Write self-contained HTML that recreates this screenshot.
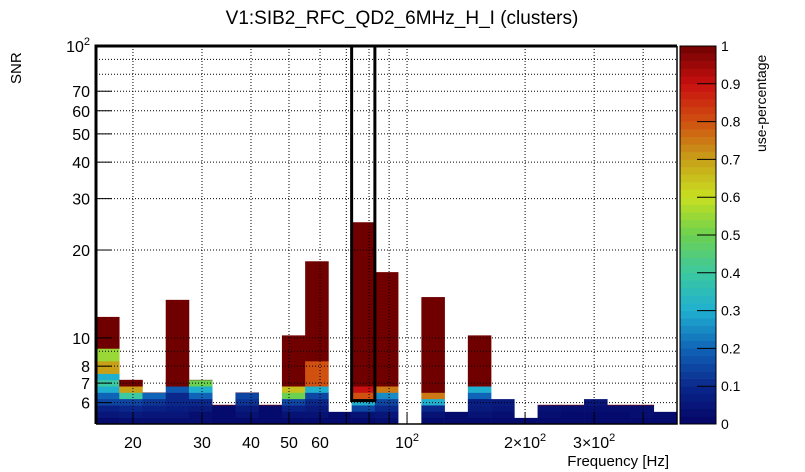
<!DOCTYPE html>
<html><head><meta charset="utf-8"><style>
body{margin:0;background:#fff;}
svg{display:block;font-family:"Liberation Sans",sans-serif;}
</style></head><body>
<svg id="chart" width="805" height="472" viewBox="0 0 805 472" xmlns="http://www.w3.org/2000/svg">
<text x="402" y="24" font-size="19" text-anchor="middle">V1:SIB2_RFC_QD2_6MHz_H_I (clusters)</text>
<text transform="translate(21,84) rotate(-90)" font-size="15">SNR</text>
<text x="669" y="466" font-size="15" text-anchor="end">Frequency [Hz]</text>
<text transform="translate(766,152) rotate(-90)" font-size="14">use-percentage</text>
<g id="cells"></g><g id="grid"></g><g id="axes"></g>
</svg>
<script>
// ---- data ----
const columnTops = [11.8,7.18,6.5,13.5,7.18,5.9,6.5,5.9,10.2,18.3,5.58,24.9,16.8,0,13.8,5.58,10.2,6.17,5.32,5.9,5.9,6.17,5.9,5.9,5.58];
const columnCells = [
 [0.02,0.05,0.08,0.15,0.2,0.3,0.4,0.3,0.7,0.7,0.55,0.55],
 [0.03,0.06,0.1,0.15,0.4,0.7,1],
 [0.03,0.05,0.08,0.12,0.2],
 [0.03,0.05,0.07,0.1,0.1,0.18],
 [0.03,0.03,0.06,0.1,0.2,0.3,0.5],
 [0.02,0.02,0.02],
 [0.02,0.04,0.06,0.12,0.15],
 [0.02,0.02,0.02],
 [0.02,0.04,0.08,0.15,0.5,0.65],
 [0.02,0.04,0.06,0.1,0.15,0.3,0.8,0.8,0.8,0.8],
 [0.02,0.02],
 [0.02,0.04,0.15,0.3,0.8,0.9],
 [0.03,0.05,0.1,0.15,0.25,0.75],
 [],
 [0.02,0.04,0.1,0.3,0.75],
 [0.02,0.02],
 [0.02,0.04,0.06,0.07,0.2,0.3],
 [0.02,0.03,0.05,0.06],
 [0.02],
 [0.02,0.03,0.04],
 [0.02,0.02,0.03],
 [0.02,0.02,0.03,0.05],
 [0.02,0.02,0.03],
 [0.02,0.03,0.03],
 [0.02,0.02]
];
const yTickValues = [6,7,8,10,20,30,40,50,60,70,100];
const yTickLabels = ["6","7","8","10","20","30","40","50","60","70","10^2"];
const yGridValues = [6,7,8,9,10,20,30,40,50,60,70,80,90];
const xGridValues = [20,30,40,50,60,70,80,90,100,200,300,400];
const xTickValues = [20,30,40,50,60,100,200,300];
const xTickLabels = ["20","30","40","50","60","10^2","2×10^2","3×10^2"];
const cbTickValues = [0,0.1,0.2,0.3,0.4,0.5,0.6,0.7,0.8,0.9,1];
const boxedColumn = 11;
const boxTopSNR = 100, boxBottomSNR = 6.1;
// ---- axes ----
const L=96,R=677,T=46,B=424;
const XMIN=16.1,XMAX=488,YMIN=5.07,YMAX=100,NCOL=25,CELLD=6.3/292;
const xs=f=>L+(Math.log10(f)-Math.log10(XMIN))/(Math.log10(XMAX)-Math.log10(XMIN))*(R-L);
const ys=s=>B-(Math.log10(s)-Math.log10(YMIN))/(Math.log10(YMAX)-Math.log10(YMIN))*(B-T);
const colW=(R-L)/NCOL;
const stops=[[0,[4,4,100]],[0.1,[10,40,140]],[0.2,[16,100,184]],[0.3,[31,176,208]],[0.4,[60,200,160]],[0.5,[108,208,80]],[0.6,[200,224,32]],[0.7,[200,160,24]],[0.8,[208,80,16]],[0.9,[200,16,16]],[1,[112,0,0]]];
function col(v){for(let i=1;i<stops.length;i++){if(v<=stops[i][0]){const a=stops[i-1],b=stops[i],t=(v-a[0])/(b[0]-a[0]);return 'rgb('+a[1].map((c,k)=>Math.round(c+(b[1][k]-c)*t)).join(',')+')';}}return 'rgb(112,0,0)';}
const NS='http://www.w3.org/2000/svg';
function mk(p,tag,at){const e=document.createElementNS(NS,tag);for(const k in at)e.setAttribute(k,at[k]);p.appendChild(e);return e;}
function setLabel(t,s){const parts=s.split('^');t.textContent=parts[0];if(parts[1]){const sp=document.createElementNS(NS,'tspan');sp.setAttribute('dy','-7');sp.setAttribute('font-size','11');sp.textContent=parts[1];t.appendChild(sp);}}
const gc=document.getElementById('cells'),gg=document.getElementById('grid'),ga=document.getElementById('axes');
columnTops.forEach((top,i)=>{
  if(!top)return;
  const x0=L+i*colW;
  const cells=columnCells[i];
  let k=0;
  while(true){
    const lo=YMIN*Math.pow(10,k*CELLD);
    if(lo>=top)break;
    const hi=Math.min(top,YMIN*Math.pow(10,(k+1)*CELLD));
    const isTop=k>=cells.length;
    const hiS=isTop?top:hi;
    const v=isTop?1:cells[k];
    const r=mk(gc,'rect',{x:x0,y:ys(hiS),width:colW+0.3,height:ys(lo)-ys(hiS)+0.3,fill:col(v)});
    
    
    if(isTop)break;
    k++;
  }
});
yGridValues.forEach(v=>{const l=mk(gg,'line',{x1:L,x2:R,y1:ys(v),y2:ys(v),stroke:'#000','stroke-width':1,'stroke-dasharray':'1,2'});

});
xGridValues.forEach(v=>{const l=mk(gg,'line',{x1:xs(v),x2:xs(v),y1:T,y2:B,stroke:'#000','stroke-width':1,'stroke-dasharray':'1,2'});

});
yTickValues.forEach((v,i)=>{const t=mk(ga,'text',{x:L-6,y:ys(v)+6,'font-size':16,'text-anchor':'end'});setLabel(t,yTickLabels[i]);


mk(ga,'line',{x1:L,x2:L+16,y1:ys(v),y2:ys(v),stroke:'#000'});});
xTickValues.forEach((v,i)=>{const t=mk(ga,'text',{x:xs(v),y:448,'font-size':16,'text-anchor':'middle'});setLabel(t,xTickLabels[i]);

});
xGridValues.forEach(v=>mk(ga,'line',{x1:xs(v),x2:xs(v),y1:B,y2:B-12,stroke:'#000'}));
const bx=L+boxedColumn*colW;
const bxr=mk(ga,'rect',{x:bx,y:ys(boxTopSNR),width:colW,height:ys(boxBottomSNR)-ys(boxTopSNR),fill:'none',stroke:'#000','stroke-width':3});


const fr=mk(ga,'path',{d:`M${L} ${B}V${T}H${R}`,fill:'none',stroke:'#000','stroke-width':3});


mk(ga,'path',{d:`M${L} ${B}H${R}V${T}`,fill:'none',stroke:'#000','stroke-width':1.5});
const CX=680,CW=36;
for(let i=0;i<50;i++){const v0=i/50;const h=(B-T)/50;
const r=mk(ga,'rect',{x:CX,y:B-(i+1)*h,width:CW,height:h+0.3,fill:col(v0+0.01)});

}
const cbf=mk(ga,'rect',{x:CX,y:T,width:CW,height:B-T,fill:'none',stroke:'#000','stroke-width':1});


cbTickValues.forEach(v=>{const y=B-v*(B-T);mk(ga,'line',{x1:CX+CW-19,x2:CX+CW,y1:y,y2:y,stroke:'#000'});
const t=mk(ga,'text',{x:CX+CW+5,y:y+5,'font-size':14});t.textContent=String(v);

});
</script>
</body></html>
